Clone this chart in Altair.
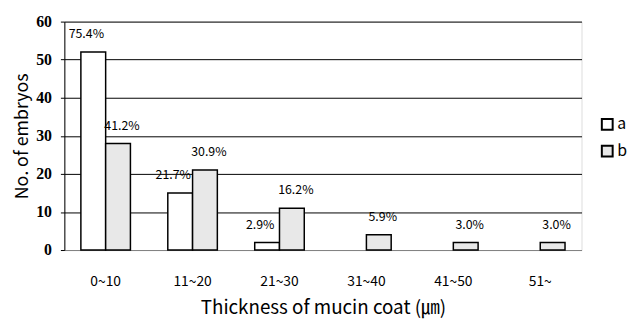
import altair as alt
import pandas as pd

categories = ["0~10", "11~20", "21~30", "31~40", "41~50", "51~"]
series_a = [52, 15, 2, 0, 0, 0]
series_b = [28, 21, 11, 4, 2, 2]
labels_a = ["75.4%", "21.7%", "2.9%", "", "", ""]
labels_b = ["41.2%", "30.9%", "16.2%", "5.9%", "3.0%", "3.0%"]

rows = []
for c, v, l in zip(categories, series_a, labels_a):
    rows.append({"cat": c, "grp": "a", "val": v, "lab": l})
for c, v, l in zip(categories, series_b, labels_b):
    rows.append({"cat": c, "grp": "b", "val": v, "lab": l})
df = pd.DataFrame(rows)

sans = "Noto Sans CJK KR"
serif = "Liberation Serif"

x = alt.X("cat:N", sort=categories,
          scale=alt.Scale(paddingInner=0.43, paddingOuter=0.19),
          axis=alt.Axis(title="Thickness of mucin coat (㎛)", labelAngle=0,
                        ticks=False, domain=True, labelPadding=25,
                        labelFont=sans, labelFontSize=14, labelColor="black",
                        labelFontWeight="normal",
                        titleFont=sans, titleFontSize=19, titleFontWeight="normal",
                        titleColor="black", titlePadding=10))
xoff = alt.XOffset("grp:N", sort=["a", "b"])
y = alt.Y("val:Q", scale=alt.Scale(domain=[0, 60], nice=False),
          axis=alt.Axis(title="No. of embryos", values=[0, 10, 20, 30, 40, 50, 60],
                        grid=True, gridColor="black", gridWidth=1, gridOpacity=1,
                        domain=True, domainColor="black", tickColor="black",
                        tickSize=4, labelPadding=9,
                        labelFont=serif, labelFontSize=16, labelFontWeight="bold",
                        labelColor="black",
                        titleFont=sans, titleFontSize=18, titleFontWeight="normal",
                        titleColor="black", titlePadding=4))

bars = alt.Chart(df).transform_filter("datum.val > 0").mark_bar(
    stroke="black", strokeWidth=1.5).encode(
    x=x, xOffset=xoff, y=y,
    fill=alt.Fill("grp:N", scale=alt.Scale(domain=["a", "b"], range=["white", "#e8e8e8"]),
                  legend=alt.Legend(title=None, orient="none", legendX=541, legendY=96,
                                    symbolType="square", symbolSize=120,
                                    symbolStrokeColor="black", symbolStrokeWidth=2,
                                    labelFont=sans, labelFontSize=16, labelFontWeight="normal",
                                    labelColor="black", rowPadding=7, labelOffset=2)),
)

text_a = alt.Chart(df).transform_filter("datum.grp == 'a'").mark_text(
    baseline="middle", dy=-18, dx=-7, font=sans, fontSize=12.5,
    fontWeight="normal", color="black").encode(
    x=x, xOffset=xoff, y=y, text="lab:N")

text_b = alt.Chart(df).transform_filter("datum.grp == 'b'").mark_text(
    baseline="middle", dy=-18, dx=4, font=sans, fontSize=12.5,
    fontWeight="normal", color="black").encode(
    x=x, xOffset=xoff, y=y, text="lab:N")

chart = alt.layer(bars, text_a, text_b).properties(
    width=523, height=231,
    autosize=alt.AutoSizeParams(type="none"),
    padding={"left": 57, "top": 12, "right": 48, "bottom": 68},
).configure_view(stroke="black", strokeWidth=1.2).configure(background="white")

chart.save("out.html", embed_options={"renderer": "svg", "actions": False})
